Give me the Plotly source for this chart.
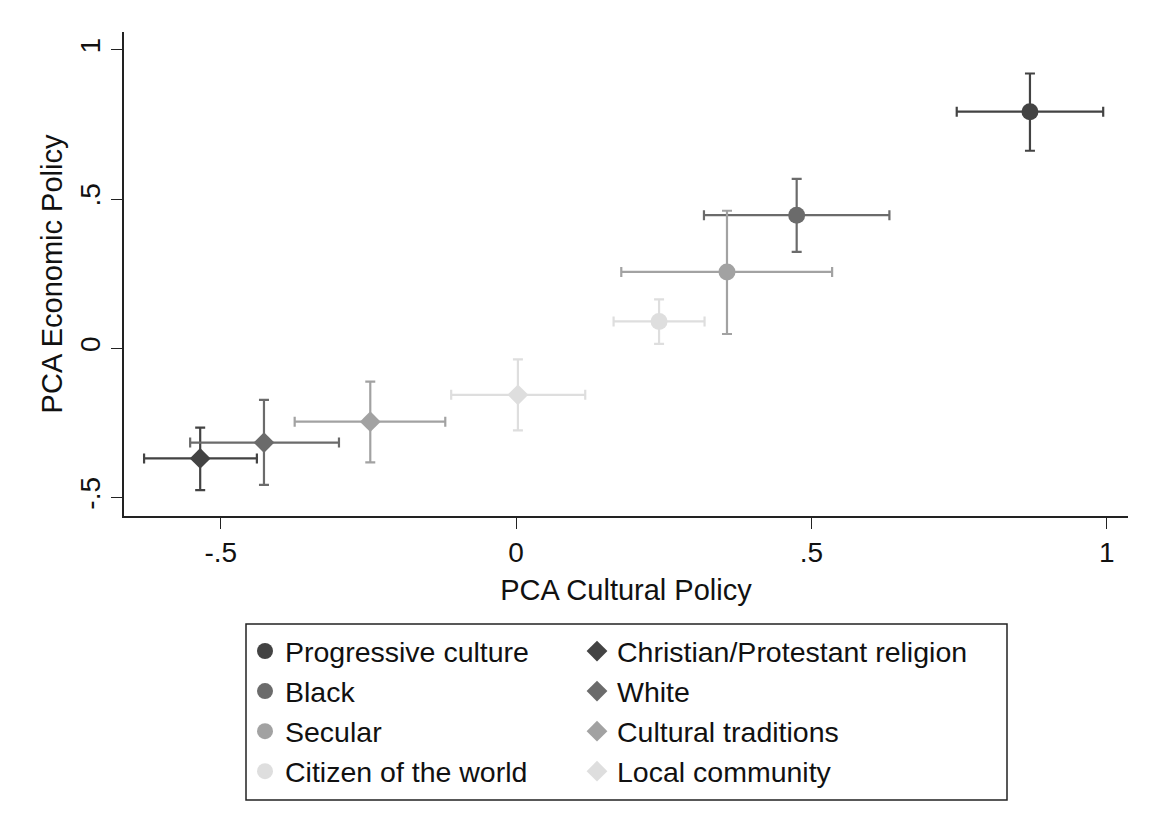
import plotly.graph_objects as go

# ---- data ----
names = ["Progressive culture", "Black", "Secular", "Citizen of the world",
         "Christian/Protestant religion", "White", "Cultural traditions", "Local community"]
x_est = [0.870, 0.475, 0.357, 0.242, -0.535, -0.427, -0.247, 0.003]
x_lo = [0.746, 0.318, 0.178, 0.165, -0.630, -0.552, -0.375, -0.110]
x_hi = [0.994, 0.632, 0.535, 0.319, -0.439, -0.300, -0.120, 0.117]
y_est = [0.793, 0.446, 0.256, 0.090, -0.369, -0.316, -0.246, -0.156]
y_lo = [0.662, 0.323, 0.048, 0.015, -0.475, -0.458, -0.382, -0.275]
y_hi = [0.921, 0.568, 0.461, 0.164, -0.266, -0.173, -0.112, -0.037]
symbols = ["circle"] * 4 + ["diamond"] * 4
colors = ["#434343", "#6b6b6b", "#a2a2a2", "#dedede"] * 2
x_ticks = [-0.5, 0, 0.5, 1]
x_ticklabels = ["-.5", "0", ".5", "1"]
y_ticks = [-0.5, 0, 0.5, 1]
y_ticklabels = ["-.5", "0", ".5", "1"]

FONT = "Liberation Sans, Arial, Helvetica, sans-serif"
OFF = 8  # page body margin
W, H = 1140, 820
# plot area in window pixels: left 124, right 1128, top 32, bottom 516
L, T = 124 - OFF, 32 - OFF
R = W - (1128 - OFF)
B = H - (516 - OFF)
PW, PH = W - L - R, H - T - B


def wx(px):
    return (px - OFF - L) / PW


def wy(py):
    return (H - B - (py - OFF)) / PH


fig = go.Figure()
for i in range(8):
    fig.add_trace(go.Scatter(
        x=[x_est[i]], y=[y_est[i]], mode="markers", name=names[i],
        marker=dict(symbol=symbols[i], color=colors[i],
                    size=17 if symbols[i] == "circle" else 16, line=dict(width=0)),
        error_x=dict(type="data", symmetric=False,
                     array=[x_hi[i] - x_est[i]], arrayminus=[x_est[i] - x_lo[i]],
                     color=colors[i], thickness=2.2, width=5),
        error_y=dict(type="data", symmetric=False,
                     array=[y_hi[i] - y_est[i]], arrayminus=[y_est[i] - y_lo[i]],
                     color=colors[i], thickness=2.2, width=5),
        legend="legend" if i < 4 else "legend2",
        legendgroup=f"g{i}",
        hoverinfo="skip",
    ))

axis_common = dict(showgrid=False, zeroline=False, showline=True, linecolor="#222",
                   linewidth=1.5, ticks="outside", ticklen=11, tickwidth=1.3,
                   tickcolor="#222", tickfont=dict(size=28, color="#111", family=FONT),
                   mirror=False)

legend_font = dict(size=28.5, family=FONT, color="#111")

fig.update_layout(
    width=W, height=H,
    margin=dict(l=L, r=R, t=T, b=B, autoexpand=False),
    paper_bgcolor="white", plot_bgcolor="white",
    font=dict(family=FONT, color="#111"),
    showlegend=True,
    xaxis=dict(range=[-0.664, 1.036], tickvals=x_ticks, ticktext=x_ticklabels,
               title=dict(text="PCA Cultural Policy", font=dict(size=29, family=FONT),
                          standoff=12),
               **axis_common),
    yaxis=dict(range=[-0.562, 1.060], tickvals=y_ticks, ticktext=y_ticklabels,
               tickangle=-90,
               title=dict(text="PCA Economic Policy", font=dict(size=29, family=FONT),
                          standoff=4),
               **axis_common),
    legend=dict(x=wx(245), y=wy(626), xanchor="left", yanchor="top",
                bgcolor="rgba(0,0,0,0)", borderwidth=0, font=legend_font,
                traceorder="grouped", tracegroupgap=0, itemclick=False),
    legend2=dict(x=wx(577), y=wy(626), xanchor="left", yanchor="top",
                 bgcolor="rgba(0,0,0,0)", borderwidth=0, font=legend_font,
                 traceorder="grouped", tracegroupgap=0, itemclick=False),
    shapes=[dict(type="rect", xref="paper", yref="paper",
                 x0=wx(246), x1=wx(1007), y0=wy(624), y1=wy(800),
                 line=dict(color="#222", width=1.5), fillcolor="rgba(0,0,0,0)")],
)

fig.write_html("out.html")
